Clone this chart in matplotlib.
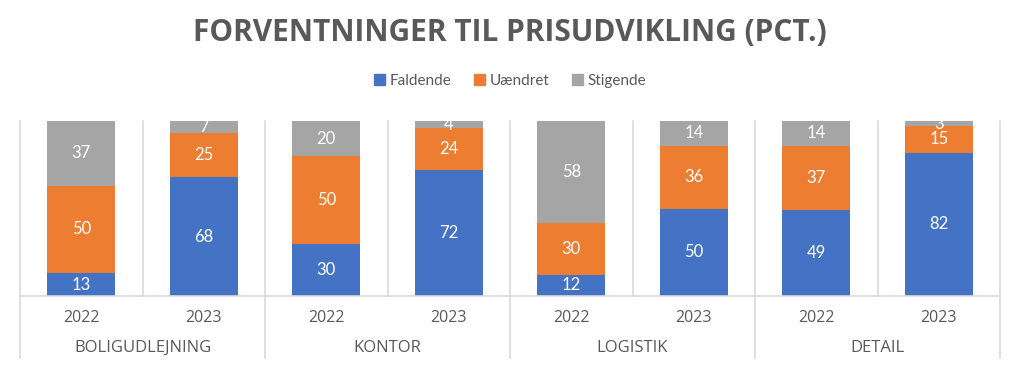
import matplotlib
matplotlib.use("Agg")
import matplotlib.pyplot as plt
from matplotlib.lines import Line2D
from matplotlib.patches import Patch
import numpy as np

plt.rcParams['font.family'] = ['Lato', 'DejaVu Sans']

categories = ["BOLIGUDLEJNING", "KONTOR", "LOGISTIK", "DETAIL"]
years = ["2022", "2023"]
faldende = [13, 68, 30, 72, 12, 50, 49, 82]
uaendret = [50, 25, 50, 24, 30, 36, 37, 15]
stigende = [37, 7, 20, 4, 58, 14, 14, 3]
series_names = ["Faldende", "Uændret", "Stigende"]
colors = ["#4472C4", "#ED7D31", "#A5A5A5"]
title = "FORVENTNINGER TIL PRISUDVIKLING (PCT.)"

text_color = "#595959"
grid_color = "#D9D9D9"

fig = plt.figure(figsize=(10.2, 3.67), dpi=100)
ax = fig.add_axes([20/1020, 1-296/367, 980/1020, 175/367])

n = len(faldende)
x = np.arange(n)
width = 0.555
bottom = np.zeros(n)
for vals, col in zip([faldende, uaendret, stigende], colors):
    vals = np.array(vals, dtype=float)
    ax.bar(x, vals, width, bottom=bottom, color=col, zorder=2)
    for xi, b, v in zip(x, bottom, vals):
        ax.text(xi, b + v/2, f"{int(v)}", ha="center", va="center",
                color="white", fontsize=12, clip_on=True, zorder=3)
    bottom += vals

ax.set_xlim(-0.5, n - 0.5)
ax.set_ylim(0, 100)
ax.set_yticks([])
ax.set_xticks([])
for s in ["top", "right", "left"]:
    ax.spines[s].set_visible(False)
ax.spines["bottom"].set_color(grid_color)
ax.spines["bottom"].set_linewidth(1.2)

axh = 175.0
for i in range(n + 1):
    xb = i - 0.5
    if i % 2 == 0:
        ymin = -62/axh
    else:
        ymin = 0
    ax.add_line(Line2D([xb, xb], [ymin, 1], transform=ax.get_xaxis_transform(),
                       color=grid_color, lw=1.2, clip_on=False, zorder=1))

for i in range(n):
    ax.text(i, -22/axh, years[i % 2], transform=ax.get_xaxis_transform(),
            ha="center", va="center", fontsize=11.5, color=text_color,
            family=["Open Sans", "DejaVu Sans"])
for j, c in enumerate(categories):
    ax.text(2*j + 0.5, -52/axh, c, transform=ax.get_xaxis_transform(),
            ha="center", va="center", fontsize=12, color=text_color,
            family=["Open Sans", "DejaVu Sans"])

fig.text(0.5, 1-33/367, title, ha="center", va="center", fontsize=21.5,
         fontweight="bold", color=text_color, family=["Open Sans", "DejaVu Sans"])

handles = [Patch(facecolor=c, edgecolor=c) for c in colors]
fig.legend(handles, series_names, loc="center", bbox_to_anchor=(0.5, 1-81/367),
           ncol=3, frameon=False, fontsize=11, labelcolor=text_color,
           handlelength=0.7, handleheight=0.7, handletextpad=0.3, columnspacing=1.5)

fig.savefig("out.png", dpi=100)
